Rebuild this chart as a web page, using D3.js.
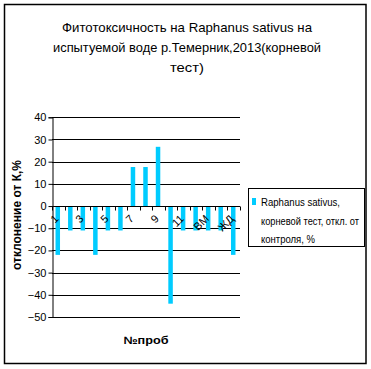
<!DOCTYPE html>
<html><head><meta charset="utf-8">
<script src="https://cdn.jsdelivr.net/npm/d3@7"></script>
<style>body{margin:0;background:#fff}svg{display:block}text{font-family:"Liberation Sans",Arial,sans-serif}</style>
</head><body>
<script>
const categories = ["1","2","3","4","5","6","7","8","9","10","11","12","ВМ","ДМ","ЖД"];
const values = [-22,-11,-11,-22,-11,-11,17.6,17.6,26.7,-44,-11,-11,-11,-11,-22];
const shownLabels = ["1","3","5","7","9","11","ВМ","ЖД"];
const yTicks = [40,30,20,10,0,-10,-20,-30,-40,-50];
const titleLines = ["Фитотоксичность на Raphanus sativus на","испытуемой воде р.Темерник,2013(корневой","тест)"];
const legendLines = ["Raphanus sativus,","корневой тест, откл. от","контроля, %"];
const yTitle = "отклонение от К,%";
const xTitle = "№проб";

const W=371,H=369;
const svg=d3.select("body").append("svg").attr("width",W).attr("height",H);
svg.append("rect").attr("x",4.5).attr("y",4.5).attr("width",361.5).attr("height",359).attr("fill","#fff").attr("stroke","#000").attr("stroke-width",1.5);

const pL=52,pR=240,pT=117.3,pB=317;
const x=d3.scaleBand().domain(categories).range([pL,pR]);
const y=d3.scaleLinear().domain([-50,40]).range([pB,pT]);

// title
const tl=[250,268,34];
svg.append("g").selectAll("text").data(titleLines).join("text")
  .attr("x",187).attr("y",(d,i)=>32+i*20).attr("text-anchor","middle")
  .attr("font-size",13).attr("textLength",(d,i)=>tl[i]).attr("lengthAdjust","spacingAndGlyphs").text(d=>d);

// gridlines
svg.append("g").selectAll("line").data(yTicks).join("line")
  .attr("x1",pL).attr("x2",pR).attr("y1",d=>Math.round(y(d))+0.5).attr("y2",d=>Math.round(y(d))+0.5)
  .attr("stroke","#000").attr("stroke-width",1);

// y axis
const yAxis=d3.axisLeft(y).tickValues(yTicks).tickSize(4).tickPadding(2);
const gy=svg.append("g").attr("transform",`translate(${pL+0.5},0)`).call(yAxis);
gy.select(".domain").attr("stroke","#000");
gy.selectAll(".tick line").attr("stroke","#000");
gy.selectAll(".tick text").attr("font-size",11).attr("fill","#000").attr("font-family","Liberation Sans Narrow, Liberation Sans, Arial");

// bars
const bw=4.5;
svg.append("g").selectAll("rect").data(values).join("rect")
  .attr("x",(d,i)=>x(categories[i])+x.bandwidth()/2-bw/2-0.5)
  .attr("width",bw)
  .attr("y",d=>y(Math.max(0,d)))
  .attr("height",d=>Math.abs(y(d)-y(0)))
  .attr("fill","#00ccff");

// x axis at zero
const y0=Math.round(y(0))+0.5;
const gx=svg.append("g");
gx.append("line").attr("x1",pL).attr("x2",pR).attr("y1",y0).attr("y2",y0).attr("stroke","#000");
gx.selectAll("line.t").data(d3.range(categories.length+1)).join("line").attr("class","t")
  .attr("x1",i=>Math.round(pL+i*x.step())+0.5).attr("x2",i=>Math.round(pL+i*x.step())+0.5)
  .attr("y1",y0).attr("y2",y0+4).attr("stroke","#000");
gx.selectAll("text").data(categories.filter(c=>shownLabels.includes(c))).join("text")
  .attr("transform",d=>`translate(${x(d)+x.bandwidth()/2+1},${y0+13}) rotate(-45)`)
  .attr("text-anchor","end").attr("font-size",11).attr("font-family","Liberation Sans Narrow, Liberation Sans, Arial").text(d=>d);

// axis titles
svg.append("text").attr("transform",`translate(21,215) rotate(-90)`).attr("text-anchor","middle")
  .attr("font-size",12).attr("font-weight","bold").text(yTitle);
svg.append("text").attr("x",146).attr("y",344).attr("text-anchor","middle")
  .attr("font-size",11).attr("font-weight","bold").attr("textLength",45).attr("lengthAdjust","spacingAndGlyphs").text(xTitle);

// legend
const lg=svg.append("g");
lg.append("rect").attr("x",248.5).attr("y",188.5).attr("width",116).attr("height",58).attr("fill","#fff").attr("stroke","#000");
lg.append("rect").attr("x",252).attr("y",198).attr("width",4).attr("height",7).attr("fill","#00ccff");
const ll=[79,98,54];
lg.selectAll("text").data(legendLines).join("text").attr("x",261).attr("y",(d,i)=>206+i*18.5)
  .attr("font-size",10.5).attr("textLength",(d,i)=>ll[i]).attr("lengthAdjust","spacingAndGlyphs").text(d=>d);
</script>
</body></html>
